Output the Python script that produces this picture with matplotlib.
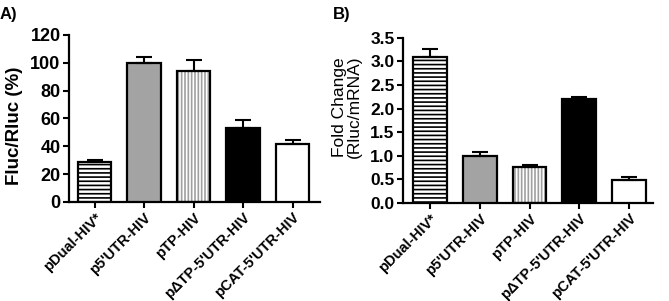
import numpy as np
import matplotlib.pyplot as plt

plt.rcParams['font.family'] = ['Liberation Sans', 'DejaVu Sans']
plt.rcParams['hatch.linewidth'] = 1.2

labels = ['pDual-HIV*', "p5'UTR-HIV", 'pTP-HIV', "p\u0394TP-5'UTR-HIV", "pCAT-5'UTR-HIV"]

# Panel A: Fluc/Rluc (%)
a_vals = [29, 100, 94, 53, 42]
a_err = [1.5, 4, 8, 6, 2.5]

# Panel B: fold change (Rluc/mRNA)
b_vals = [3.1, 1.0, 0.77, 2.2, 0.48]
b_err = [0.17, 0.08, 0.04, 0.05, 0.06]

fills = ['white', '#a3a3a3', 'white', 'black', 'white']
hatches = ['----', None, '|||||', None, None]
hatch_cols = ['black', None, '#a0a0a0', None, None]

fig = plt.figure(figsize=(6.69, 3.01), dpi=100)
ax1 = fig.add_axes([0.103, 0.329, 0.375, 0.555])
ax2 = fig.add_axes([0.602, 0.326, 0.374, 0.548])


def draw(ax, vals, errs, ylim, yticks, fmt, tick_size):
    x = np.arange(len(vals))
    for i in range(len(vals)):
        if hatches[i]:
            ax.bar(x[i], vals[i], 0.68, color=fills[i], edgecolor=hatch_cols[i],
                   hatch=hatches[i], linewidth=0, zorder=2)
            ax.bar(x[i], vals[i], 0.68, fill=False, edgecolor='black',
                   linewidth=1.6, zorder=3)
        else:
            ax.bar(x[i], vals[i], 0.68, color=fills[i], edgecolor='black',
                   linewidth=1.6, zorder=3)
        ax.errorbar(x[i], vals[i], yerr=[[0], [errs[i]]], fmt='none', ecolor='black',
                    elinewidth=1.5, capsize=6, capthick=1.5, zorder=4)
    ax.set_ylim(*ylim)
    ax.set_yticks(yticks)
    ax.set_yticklabels([fmt.format(v) for v in yticks], fontsize=tick_size, fontweight='bold')
    ax.set_xticks(x)
    ax.set_xticklabels(labels, rotation=45, ha='right', rotation_mode='anchor',
                       fontsize=10.5, fontweight='bold')
    for s in ['top', 'right']:
        ax.spines[s].set_visible(False)
    for s in ['left', 'bottom']:
        ax.spines[s].set_linewidth(1.6)
    ax.tick_params(width=1.5, length=4, pad=2)


draw(ax1, a_vals, a_err, (0, 120), [0, 20, 40, 60, 80, 100, 120], '{:.0f}', 13)
ax1.set_xlim(-0.52, 4.55)
ax1.set_ylabel('Fluc/Rluc (%)', fontsize=13.5, fontweight='bold')
ax1.yaxis.set_label_coords(-0.183, 0.455)

draw(ax2, b_vals, b_err, (0, 3.5), [0, 0.5, 1.0, 1.5, 2.0, 2.5, 3.0, 3.5], '{:.1f}', 12.5)
ax2.set_xlim(-0.55, 4.48)
ax2.set_ylabel('Fold Change\n(Rluc/mRNA)', fontsize=12.5, linespacing=0.95)
ax2.yaxis.set_label_coords(-0.164, 0.58)

fig.text(0.0, 0.977, 'A)', fontsize=12, fontweight='bold', va='top')
fig.text(0.497, 0.977, 'B)', fontsize=12, fontweight='bold', va='top')

fig.savefig('out.png', dpi=100)
